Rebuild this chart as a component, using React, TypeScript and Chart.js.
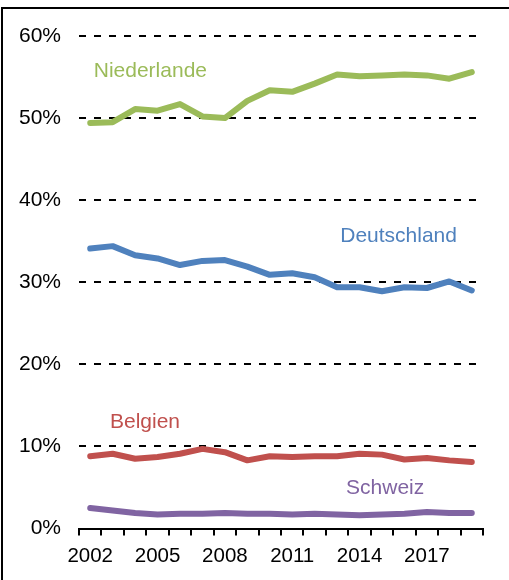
import React, { useEffect, useRef } from "react";
import { Chart, registerables } from "chart.js";

Chart.register(...registerables);

const years = ["2002","2003","2004","2005","2006","2007","2008","2009","2010","2011","2012","2013","2014","2015","2016","2017","2018","2019"];
const niederlande = [49.4, 49.5, 51.1, 50.9, 51.7, 50.2, 50.0, 52.1, 53.4, 53.2, 54.2, 55.3, 55.1, 55.2, 55.3, 55.2, 54.8, 55.6];
const deutschland = [34.1, 34.4, 33.3, 32.9, 32.1, 32.6, 32.7, 31.9, 30.9, 31.1, 30.6, 29.4, 29.4, 28.9, 29.4, 29.3, 30.1, 29.0];
const belgien = [8.8, 9.1, 8.5, 8.7, 9.1, 9.7, 9.3, 8.3, 8.8, 8.7, 8.8, 8.8, 9.1, 9.0, 8.4, 8.6, 8.3, 8.1];
const schweiz = [2.5, 2.2, 1.9, 1.7, 1.8, 1.8, 1.9, 1.8, 1.8, 1.7, 1.8, 1.7, 1.6, 1.7, 1.8, 2.0, 1.9, 1.9];

const seriesNames = ["Niederlande", "Deutschland", "Belgien", "Schweiz"];
const seriesColors = ["#9BBB59", "#4F81BD", "#C0504D", "#8064A2"];
// label anchors in data space: category index (fractional) and value (%)
const labelIndex = [2.68, 13.74, 2.44, 13.14];
const labelValue = [55.75, 35.55, 13.0, 4.85];

const yTicks = [0, 10, 20, 30, 40, 50, 60];

const FONT = "'Liberation Sans', Arial, sans-serif";

const labelPlugin = {
  id: "seriesLabels",
  afterDatasetsDraw(chart: any) {
    const ctx = chart.ctx;
    const xs = chart.scales.x;
    const ys = chart.scales.y;
    ctx.save();
    ctx.font = `21px ${FONT}`;
    ctx.textAlign = "center";
    ctx.textBaseline = "middle";
    seriesNames.forEach((name, i) => {
      ctx.fillStyle = seriesColors[i];
      ctx.fillText(name, xs.getPixelForValue(labelIndex[i]), ys.getPixelForValue(labelValue[i]));
    });
    ctx.restore();
  },
};

export default function App() {
  const ref = useRef<HTMLCanvasElement>(null);
  useEffect(() => {
    if (!ref.current) return;
    const seriesData = [niederlande, deutschland, belgien, schweiz];
    const chart = new Chart(ref.current, {
      type: "line",
      data: {
        labels: years,
        datasets: seriesData.map((d, i) => ({
          label: seriesNames[i],
          data: d,
          borderColor: seriesColors[i],
          backgroundColor: seriesColors[i],
          borderWidth: 6,
          pointRadius: 0,
          tension: 0,
          borderCapStyle: "round" as const,
          borderJoinStyle: "round" as const,
          fill: false,
        })),
      },
      options: {
        animation: false,
        responsive: true,
        maintainAspectRatio: false,
        layout: { autoPadding: false, padding: { top: 36, right: 26, left: 0, bottom: 0 } },
        plugins: { legend: { display: false }, tooltip: { enabled: false } },
        scales: {
          x: {
            type: "category",
            offset: true,
            afterFit: (s: any) => { s.height = 51.5; },
            grid: { offset: true, drawOnChartArea: false, drawTicks: true, tickLength: 7, color: "#000", lineWidth: 2 },
            border: { display: true, color: "#000", width: 2 },
            ticks: {
              autoSkip: false,
              maxRotation: 0,
              padding: 9,
              color: "#000",
              font: { family: FONT, size: 20.5 },
              callback: (_v: any, i: number) => (i % 3 === 0 ? years[i] : ""),
            },
          },
          y: {
            min: 0,
            max: 60,
            afterFit: (s: any) => { s.width = 79; },
            afterBuildTicks: (s: any) => { s.ticks = yTicks.map((v) => ({ value: v })); },
            grid: {
              drawTicks: false,
              color: (c: any) => (c.tick && c.tick.value === 0 ? "rgba(0,0,0,0)" : "#000"),
              lineWidth: 2,
            },
            border: { display: false, dash: [7, 8] },
            ticks: {
              padding: 18,
              color: "#000",
              font: { family: FONT, size: 21 },
              callback: (v: any) => `${v}%`,
            },
          },
        },
      },
      plugins: [labelPlugin],
    });
    return () => chart.destroy();
  }, []);
  return (
    <div style={{ position: "absolute", left: 0, top: 0, width: 509, height: 580, background: "#fff", overflow: "hidden" }}>
      <div style={{ position: "absolute", left: 1, top: 7, width: 600, height: 600, borderLeft: "2px solid #000", borderTop: "2px solid #000" }} />
      <div style={{ position: "absolute", left: 0, top: 0, width: 509, height: 580 }}>
        <canvas ref={ref} />
      </div>
    </div>
  );
}
